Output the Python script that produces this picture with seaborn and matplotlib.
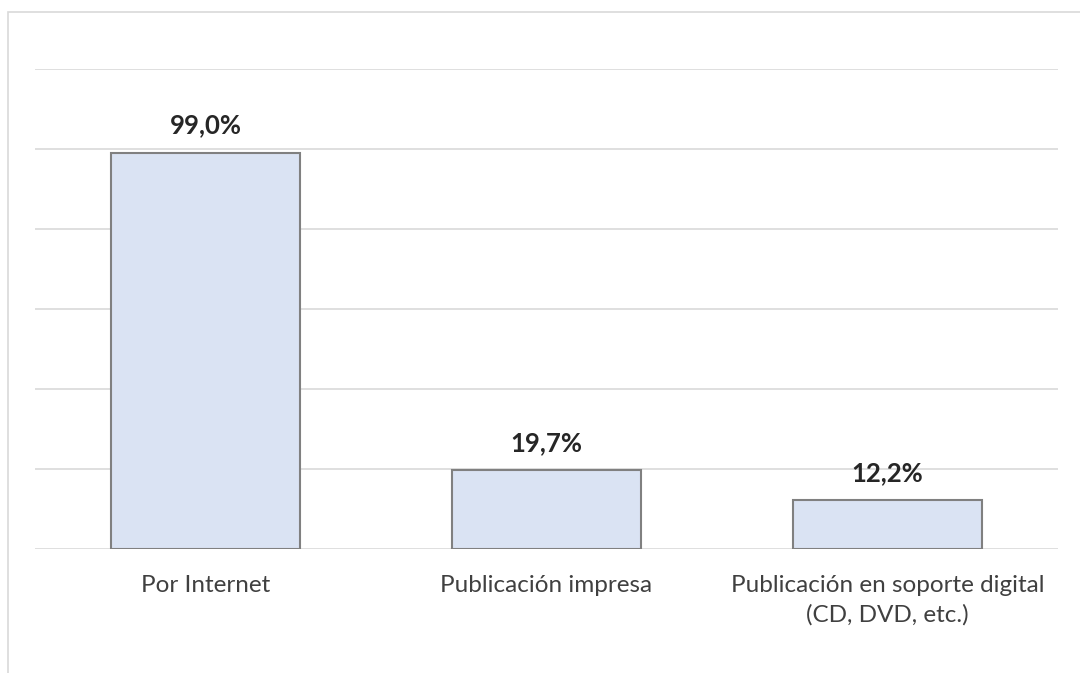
import matplotlib
matplotlib.use("Agg")
import matplotlib.pyplot as plt
import seaborn as sns
import pandas as pd
from matplotlib.patches import Rectangle

categories = ["Por Internet", "Publicación impresa", "Publicación en soporte digital\n(CD, DVD, etc.)"]
values = [99.0, 19.7, 12.2]
value_labels = ["99,0%", "19,7%", "12,2%"]

sns.set_theme(style="white")
plt.rcParams['font.family'] = ['Lato', 'DejaVu Sans']

df = pd.DataFrame({"cat": categories, "val": values})

fig = plt.figure(figsize=(10.8, 6.73), dpi=100)
ax = fig.add_axes([35/1080, 1-549/673, (1058-35)/1080, (549-69)/673])

sns.barplot(data=df, x="cat", y="val", color="#dae3f3", width=0.557,
            edgecolor="#808080", linewidth=1.5, saturation=1, ax=ax, zorder=3)

ax.set_ylim(0, 120)
ax.set_xlim(-0.5, 2.5)
ax.set_yticks(range(0, 121, 20))
ax.yaxis.grid(True, color="#d9d9d9", linewidth=1.2, zorder=0)
ax.set_axisbelow(True)
ax.tick_params(axis='y', left=False, labelleft=False)
ax.tick_params(axis='x', bottom=False, pad=13, labelsize=17.5, labelcolor="#404040")
for lbl in ax.get_xticklabels():
    lbl.set_linespacing(1.45)
for s in ax.spines.values():
    s.set_visible(False)
ax.set_xlabel("")
ax.set_ylabel("")

for i, (v, lab) in enumerate(zip(values, value_labels)):
    ax.annotate(lab, (i, v), xytext=(0, 14), textcoords="offset points",
                ha="center", va="baseline", fontsize=18.5, fontweight="bold", color="#262626")

fig.patches.append(Rectangle((8/1080, -0.5), 1.5, 0.5 + 1 - 12/673, transform=fig.transFigure,
                             fill=False, edgecolor="#d9d9d9", linewidth=1.2, zorder=0))

fig.savefig("out.png", dpi=100)
